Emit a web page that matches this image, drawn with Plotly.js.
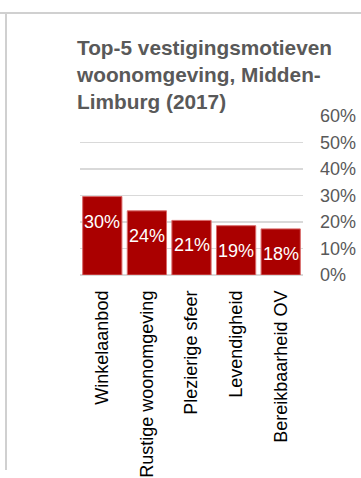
<!DOCTYPE html>
<html>
<head>
<meta charset="utf-8">
<script src="https://cdn.plot.ly/plotly-3.0.1.min.js"></script>
<style>
  html, body { margin: 0; padding: 0; background: #fff; }
  #wrap { position: relative; width: 361px; height: 478px; }
  #chart { width: 361px; height: 478px; }
  .frameline { position: absolute; background: #d0d0d0; pointer-events: none; z-index: 10; }
  #frameTop { left: 0; top: 12px; width: 361px; height: 2px; }
  #frameLeft { left: 5px; top: 12px; width: 2px; height: 458px; }
</style>
</head>
<body>
<div id="wrap">
  <div id="chart"></div>
  <div id="frameTop" class="frameline"></div>
  <div id="frameLeft" class="frameline"></div>
</div>
<script>
// Data
const categories = ["Winkelaanbod", "Rustige woonomgeving", "Plezierige sfeer", "Levendigheid", "Bereikbaarheid OV"];
const values = [29.6, 24.2, 20.6, 18.6, 17.4];
const valueLabels = ["30%", "24%", "21%", "19%", "18%"];
const yTickVals = [0, 10, 20, 30, 40, 50, 60];
const yTickText = ["0%", "10%", "20%", "30%", "40%", "50%", "60%"];
const titleText = "Top-5 vestigingsmotieven<br>woonomgeving, Midden-<br>Limburg (2017)";

const FONT = "Liberation Sans, Arial, sans-serif";
const W = 361, H = 478;
const M = { l: 80, r: 58, t: 116, b: 203 };

const trace = {
  type: "bar",
  x: categories,
  y: values,
  marker: { color: "#aa0000", line: { color: "#d96a6a", width: 1 } },
  hoverinfo: "skip"
};

const annotations = categories.map((c, i) => ({
  x: c, y: values[i], xref: "x", yref: "y",
  text: valueLabels[i], showarrow: false,
  yanchor: "middle", yshift: -25,
  font: { family: FONT, size: 18, color: "#ffffff" }
}));

const layout = {
  width: W, height: H,
  margin: M,
  paper_bgcolor: "#ffffff",
  plot_bgcolor: "#ffffff",
  showlegend: false,
  bargap: 0.12,
  title: {
    text: titleText,
    xref: "container", yref: "container",
    x: 77 / W, xanchor: "left",
    y: 1 - 55 / H, yanchor: "top",
    font: { family: FONT, size: 20.8, color: "#595959", weight: "bold" }
  },
  xaxis: {
    type: "category",
    tickangle: -90,
    tickfont: { family: FONT, size: 18, color: "#000000" },
    showgrid: false, showline: false, zeroline: false,
    ticks: "", ticklabelstandoff: 11,
    automargin: false
  },
  yaxis: {
    side: "right",
    range: [0, 60],
    tickvals: yTickVals,
    ticktext: yTickText,
    tickfont: { family: FONT, size: 18, color: "#595959" },
    showgrid: true, gridcolor: "#d9d9d9", gridwidth: 1.5,
    zeroline: true, zerolinecolor: "#d9d9d9", zerolinewidth: 1.5,
    showline: false, ticks: "", ticklabelstandoff: 16,
    automargin: false, fixedrange: true
  },
  annotations: annotations
};

Plotly.newPlot("chart", [trace], layout, { displayModeBar: false, staticPlot: true });
</script>
</body>
</html>
